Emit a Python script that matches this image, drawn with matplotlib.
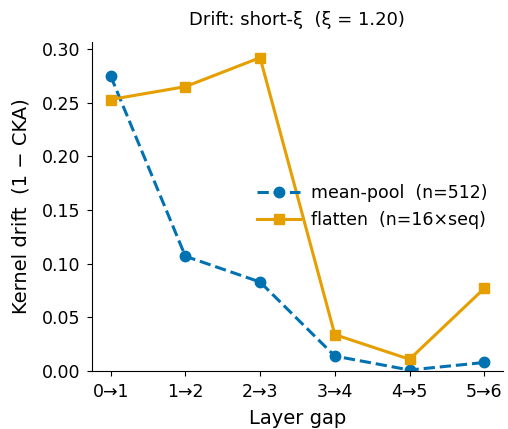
import matplotlib
matplotlib.use("Agg")
import matplotlib.pyplot as plt

# ── Data ─────────────────────────────────────────────────────────────────────
gaps = ["0→1", "1→2", "2→3", "3→4", "4→5", "5→6"]
mean_pool = [0.275, 0.107, 0.083, 0.014, 0.001, 0.008]
flatten = [0.253, 0.265, 0.292, 0.034, 0.011, 0.077]

BLUE = "#0072B2"
ORANGE = "#E69F00"

fig = plt.figure(figsize=(5.08, 4.29), dpi=100)
ax = fig.add_axes([0.181, 0.135, 0.809, 0.767])

x = range(len(gaps))
ax.plot(x, mean_pool, "--o", color=BLUE, lw=2.2, ms=7.5, label="mean-pool  (n=512)")
ax.plot(x, flatten, "-s", color=ORANGE, lw=2.2, ms=7.5, label="flatten  (n=16×seq)")

ax.set_xticks(list(x))
ax.set_xticklabels(gaps)
ax.set_ylim(0, None)
ax.set_ylabel("Kernel drift  (1 − CKA)", fontsize=14, labelpad=8)
ax.set_xlabel("Layer gap", fontsize=14, labelpad=6)
ax.set_title("Drift: short-ξ  (ξ = 1.20)", fontsize=13, pad=12)
ax.tick_params(labelsize=12.5, pad=5)
ax.spines["top"].set_visible(False)
ax.spines["right"].set_visible(False)
ax.legend(loc="center right", bbox_to_anchor=(1.0, 0.50), frameon=False,
          fontsize=12.5, handlelength=2.5, handletextpad=0.6)

fig.savefig("out.png", dpi=100)
